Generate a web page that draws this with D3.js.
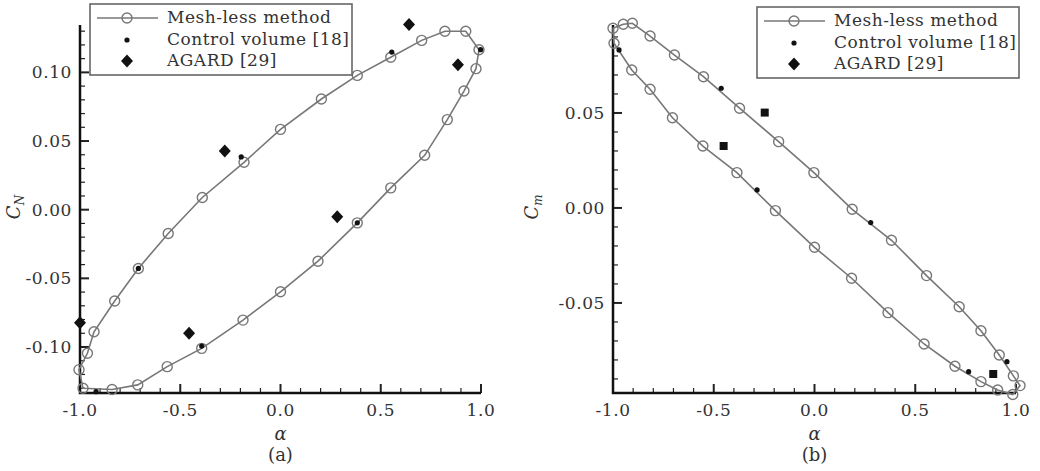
<!DOCTYPE html>
<html>
<head>
<meta charset="utf-8">
<script src="https://cdn.jsdelivr.net/npm/d3@7"></script>
<style>
body { margin: 0; background: #fff; }
text { font-family: "DejaVu Serif", serif; fill: #333; }
</style>
</head>
<body>
<div class="charts"></div>
<script>
// ---- data ----
var alphaTicks = [-1.0, -0.5, 0.0, 0.5, 1.0];
var cnTicks = [-0.10, -0.05, 0.00, 0.05, 0.10];
var cmTicks = [-0.05, 0.00, 0.05];
var legendLabels = ["Mesh-less method", "Control volume [18]", "AGARD [29]"];

// (a) normal force, mesh-less loop (closed)
var meshAlphaA = [-0.985, -1.005, -0.963, -0.93, -0.827, -0.709, -0.56, -0.39, -0.182, 0.0, 0.204, 0.383, 0.55, 0.704, 0.82, 0.924, 0.99, 0.975, 0.915, 0.832, 0.719, 0.55, 0.383, 0.187, 0.0, -0.187, -0.393, -0.565, -0.712, -0.84];
var meshCN = [-0.130, -0.1165, -0.1046, -0.0889, -0.0665, -0.0428, -0.0173, 0.0089, 0.0345, 0.0585, 0.0806, 0.0978, 0.111, 0.1233, 0.130, 0.130, 0.1165, 0.1027, 0.0864, 0.0656, 0.0396, 0.0159, -0.0096, -0.0375, -0.0598, -0.0804, -0.101, -0.1143, -0.1276, -0.131];
var cvAlphaA = [0.555, 0.998, 0.383, -0.196, -0.709, -0.393, -0.92];
var cvCN = [0.1148, 0.1165, -0.0096, 0.0384, -0.0428, -0.0993, -0.1325];
var agAlphaA = [0.641, 0.885, 0.283, -0.278, -0.456, -1.0];
var agCN = [0.1349, 0.1056, -0.0052, 0.0428, -0.090, -0.0823];

// (b) pitching moment, mesh-less loop (closed)
var meshAlphaB = [-1.0, -0.949, -0.904, -0.816, -0.695, -0.551, -0.372, -0.178, -0.003, 0.187, 0.382, 0.556, 0.718, 0.826, 0.917, 0.987, 1.02, 0.984, 0.909, 0.826, 0.697, 0.544, 0.365, 0.184, 0.0, -0.194, -0.385, -0.554, -0.705, -0.816, -0.907, -0.995];
var meshCM = [0.0946, 0.0967, 0.0972, 0.0905, 0.0805, 0.0691, 0.0525, 0.0349, 0.0186, -0.0007, -0.017, -0.0356, -0.052, -0.0646, -0.0774, -0.0884, -0.0935, -0.0982, -0.0958, -0.0914, -0.0833, -0.0716, -0.0551, -0.037, -0.0207, -0.0014, 0.0186, 0.0326, 0.0475, 0.0625, 0.0726, 0.0867];
var cvAlphaB = [-0.463, -0.97, -0.285, 0.279, 0.955, 0.765];
var cvCM = [0.063, 0.0832, 0.0095, -0.0077, -0.0809, -0.0862];
var agAlphaB = [-0.247, -0.451, 0.887];
var agCM = [0.0502, 0.0326, -0.0874];

var width = 1040, height = 471;
var lineColor = "#777";

var svg = d3.select(".charts").append("svg")
	.attr("width", width)
	.attr("height", height);

// diamond path centred on 0,0
function diamond(w, h) {
	return "M0," + (-h) + "L" + w + ",0L0," + h + "L" + (-w) + ",0Z";
}

function zip(a, b) {
	return a.map(function (d, i) { return [d, b[i]]; });
}

function isMajor(list, d) {
	return list.some(function (t) { return Math.abs(t - d) < 1e-6; });
}

function drawPanel(p) {
	var g = svg.append("g");
	var x = d3.scaleLinear().domain([-1, 1]).range([p.left, p.right]);
	var y = d3.scaleLinear().domain(p.yDomain).range([393, 25]);

	// minor ticks (inward)
	var xMinor = d3.range(-10, 11).map(function (d) { return d / 10; });
	var yMinor = d3.range(Math.ceil(p.yDomain[0] * 100), Math.floor(p.yDomain[1] * 100) + 1).map(function (d) { return d / 100; });

	g.selectAll(".xminor").data(xMinor).enter().append("line")
		.attr("x1", function (d) { return x(d); })
		.attr("x2", function (d) { return x(d); })
		.attr("y1", 393)
		.attr("y2", function (d) { return isMajor(alphaTicks, d) ? 384 : 388; })
		.attr("stroke", "#222")
		.attr("stroke-width", function (d) { return isMajor(alphaTicks, d) ? 2 : 1.2; });

	g.selectAll(".yminor").data(yMinor).enter().append("line")
		.attr("y1", function (d) { return y(d); })
		.attr("y2", function (d) { return y(d); })
		.attr("x1", p.left)
		.attr("x2", function (d) { return isMajor(p.yTicks, d) ? p.left + 9 : p.left + 5; })
		.attr("stroke", "#222")
		.attr("stroke-width", function (d) { return isMajor(p.yTicks, d) ? 2 : 1.2; });

	// axis lines
	g.append("path")
		.attr("d", "M" + p.left + ",25V393H" + p.right)
		.attr("fill", "none")
		.attr("stroke", "#111")
		.attr("stroke-width", 2.5);

	// tick labels
	g.selectAll(".xlab").data(alphaTicks).enter().append("text")
		.attr("x", function (d) { return x(d); })
		.attr("y", 416)
		.attr("text-anchor", "middle")
		.style("font-size", "17px")
		.style("letter-spacing", "0.6px")
		.text(function (d) { return d.toFixed(1); });

	g.selectAll(".ylab").data(p.yTicks).enter().append("text")
		.attr("x", p.left - 8)
		.attr("y", function (d) { return y(d) + 6; })
		.attr("text-anchor", "end")
		.style("font-size", "17px")
		.style("letter-spacing", "0.6px")
		.text(function (d) { return d.toFixed(2); });

	// axis titles
	g.append("text")
		.attr("x", (p.left + p.right) / 2)
		.attr("y", 440)
		.attr("text-anchor", "middle")
		.style("font-size", "18px")
		.style("font-style", "italic")
		.text("\u03b1");
	g.append("text")
		.attr("x", (p.left + p.right) / 2)
		.attr("y", 461)
		.attr("text-anchor", "middle")
		.style("font-size", "18px")
		.text(p.tag);

	var yt = g.append("text")
		.attr("transform", "translate(" + p.titleX + ",207) rotate(-90)")
		.attr("text-anchor", "middle")
		.style("font-size", "18px")
		.style("font-style", "italic");
	yt.append("tspan").text("C");
	yt.append("tspan").attr("dy", 4).style("font-size", "12px").text(p.sub);

	// mesh-less loop
	var pts = zip(p.meshX, p.meshY);
	var line = d3.line()
		.x(function (d) { return x(d[0]); })
		.y(function (d) { return y(d[1]); })
		.curve(d3.curveLinearClosed);
	g.append("path")
		.attr("d", line(pts))
		.attr("fill", "none")
		.attr("stroke", lineColor)
		.attr("stroke-width", 1.6);
	g.selectAll(".mesh").data(pts).enter().append("circle")
		.attr("cx", function (d) { return x(d[0]); })
		.attr("cy", function (d) { return y(d[1]); })
		.attr("r", 5)
		.attr("fill", "none")
		.attr("stroke", lineColor)
		.attr("stroke-width", 1.4);

	// control volume dots
	g.selectAll(".cv").data(zip(p.cvX, p.cvY)).enter().append("circle")
		.attr("cx", function (d) { return x(d[0]); })
		.attr("cy", function (d) { return y(d[1]); })
		.attr("r", 2.6)
		.attr("fill", "#111");

	// AGARD markers
	g.selectAll(".ag").data(zip(p.agX, p.agY)).enter().append("path")
		.attr("transform", function (d) { return "translate(" + x(d[0]) + "," + y(d[1]) + ")"; })
		.attr("d", p.square ? "M-4,-4H4V4H-4Z" : diamond(6, 6.5))
		.attr("fill", "#111");

	// legend
	var lg = g.append("g").attr("transform", "translate(" + p.legX + "," + p.legY + ")");
	lg.append("rect")
		.attr("width", 262)
		.attr("height", 71)
		.attr("fill", "#fff")
		.attr("stroke", "#666")
		.attr("stroke-width", 1.6);
	var rowY = [14, 36, 57];
	lg.append("line")
		.attr("x1", 7).attr("x2", 68)
		.attr("y1", rowY[0]).attr("y2", rowY[0])
		.attr("stroke", lineColor).attr("stroke-width", 1.6);
	lg.append("circle")
		.attr("cx", 37).attr("cy", rowY[0]).attr("r", 5)
		.attr("fill", "none").attr("stroke", lineColor).attr("stroke-width", 1.4);
	lg.append("circle")
		.attr("cx", 37).attr("cy", rowY[1]).attr("r", 2.6).attr("fill", "#111");
	lg.append("path")
		.attr("transform", "translate(37," + rowY[2] + ")")
		.attr("d", diamond(6, 6.5)).attr("fill", "#111");
	lg.selectAll(".ltext").data(legendLabels).enter().append("text")
		.attr("x", 77)
		.attr("y", function (d, i) { return rowY[i] + 5; })
		.style("font-size", "17px")
		.style("letter-spacing", "0.5px")
		.text(function (d) { return d; });
}

drawPanel({
	left: 80, right: 481, yDomain: [-0.1335, 0.1345], yTicks: cnTicks,
	meshX: meshAlphaA, meshY: meshCN, cvX: cvAlphaA, cvY: cvCN, agX: agAlphaA, agY: agCN,
	square: false, tag: "(a)", sub: "N", titleX: 20, legX: 90, legY: 4
});
drawPanel({
	left: 613, right: 1016, yDomain: [-0.0974, 0.0963], yTicks: cmTicks,
	meshX: meshAlphaB, meshY: meshCM, cvX: cvAlphaB, cvY: cvCM, agX: agAlphaB, agY: agCM,
	square: true, tag: "(b)", sub: "m", titleX: 538, legX: 757, legY: 7
});
</script>
</body>
</html>
